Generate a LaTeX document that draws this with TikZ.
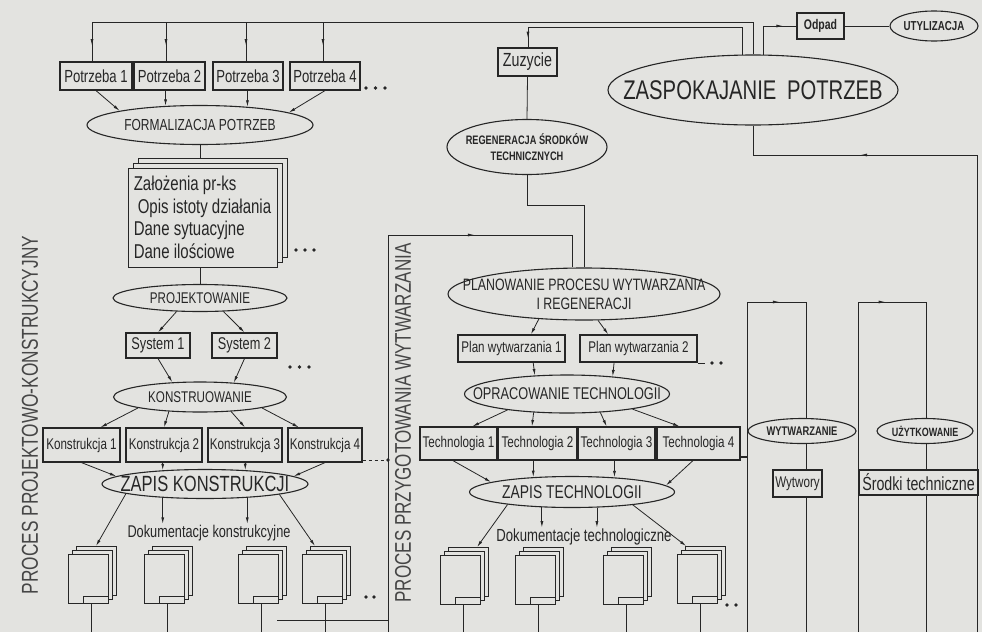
\documentclass[tikz,border=0pt]{standalone}
\usepackage{fontspec}
\setmainfont{Liberation Sans}[FakeStretch=0.75]
\usetikzlibrary{shapes.geometric,arrows.meta,decorations.markings,calc}
\definecolor{bg}{RGB}{227,227,224}
\definecolor{ink}{RGB}{38,38,38}
\definecolor{tink}{RGB}{70,70,70}
\newcommand\myfs[1]{\fontsize{#1}{#1}\selectfont}
\tikzset{
  conn/.style={draw=ink, line width=0.8pt},
  arr/.style={conn, -{Latex[length=6.5pt,width=3pt]}},
  marr/.style={conn, postaction={decorate}, decoration={markings, mark=at position #1 with {\arrow{Latex[length=6.5pt,width=3pt]}}}},
  rbox/.style={draw=ink, line width=1.2pt, fill=bg, inner sep=0.5pt, text=ink},
  bx/.style 2 args={rbox, minimum width=#1pt, minimum height=#2pt},
  ell/.style={ellipse, draw=ink, line width=1.1pt, fill=bg, inner sep=0pt},
  el/.style 2 args={ell, minimum width=#1pt, minimum height=#2pt},
  sheet/.style={draw=ink, line width=0.9pt, fill=bg, minimum width=40pt, minimum height=49pt, inner sep=0pt},
  bigsheet/.style={draw=ink, line width=1pt, fill=bg, minimum width=149pt, minimum height=99pt, inner sep=0pt},
  lbl/.style={inner sep=1pt, text=ink},
  dotm/.style={fill=ink}
}
\begin{document}
\begin{tikzpicture}[x=1pt,y=-1pt]
\fill[bg] (0,0) rectangle (982,632);
\useasboundingbox (0,0) rectangle (982,632);
\coordinate (bot) at (0,632);

% ---------------- left column ----------------
\node[bx={72}{28}, font=\myfs{17.5}] (P1) at (96,76) {Potrzeba 1};
\node[bx={71}{28}, font=\myfs{17.5}] (P2) at (169.5,76) {Potrzeba 2};
\node[bx={70}{28}, font=\myfs{17.5}] (P3) at (248,76) {Potrzeba 3};
\node[bx={70}{28}, font=\myfs{17.5}] (P4) at (325,76) {Potrzeba 4};
\node[el={226}{39}, label={[lbl,font=\myfs{16}]center:FORMALIZACJA POTRZEB}] (F) at (200,125) {};

\node[bigsheet] (St3) at (212.5,207.5) {};
\node[bigsheet] (St2) at (207.5,212.5) {};
\node[bigsheet, align=left, text=ink, font=\fontsize{20}{22.5}\selectfont] (St) at (202.5,217.5)
  {Założenia pr-ks\\\hspace*{4pt}Opis istoty działania\\Dane sytuacyjne\\Dane ilościowe};

\node[el={174}{27}, label={[lbl,font=\myfs{15.5}]center:PROJEKTOWANIE}] (Pj) at (200,298) {};
\node[bx={64}{25}, font=\myfs{17}] (S1) at (158,345.5) {System 1};
\node[bx={65}{25}, font=\myfs{17}] (S2) at (244.5,345.5) {System 2};
\node[el={173}{30}, label={[lbl,font=\myfs{15.5}]center:KONSTRUOWANIE}] (Ko) at (200,397) {};
\node[bx={77}{34}, font=\myfs{15.5}] (K1) at (81.5,445) {Konstrukcja 1};
\node[bx={76}{34}, font=\myfs{15.5}] (K2) at (164,445) {Konstrukcja 2};
\node[bx={74}{34}, font=\myfs{15.5}] (K3) at (245,445) {Konstrukcja 3};
\node[bx={74}{34}, font=\myfs{15.5}] (K4) at (325,445) {Konstrukcja 4};
\node[el={206}{29}, label={[lbl,font=\myfs{22}]center:ZAPIS KONSTRUKCJI}] (ZK) at (205,484) {};
\node[lbl, font=\myfs{17}] (DK) at (209,533) {Dokumentacje konstrukcyjne};
\node[rotate=90, text=tink, font=\myfs{23}] (TL) at (30,415) {PROCES PROJEKTOWO-KONSTRUKCYJNY};

% ---------------- middle column ----------------
\node[bx={59}{28}, font=\myfs{19}] (Zu) at (527.5,62) {Zuzycie};
\node[el={160}{55}, label={[lbl,align=center,font=\bfseries\fontsize{12.3}{16}\selectfont]center:{REGENERACJA ŚRODKÓW\\TECHNICZNYCH}}] (Rg) at (527,147) {};
\node[el={290}{70}, label={[lbl,font=\myfs{27}]center:{ZASPOKAJANIE\hspace{5pt} POTRZEB}}] (Z) at (753,90) {};
\node[bx={47}{26}, font=\bfseries\myfs{14}] (Od) at (820.5,26) {Odpad};
\node[el={88}{30}, label={[lbl,font=\bfseries\myfs{13}]center:UTYLIZACJA}] (Ut) at (934,26) {};
\node[el={272}{52}, label={[lbl,align=center,font=\fontsize{16.5}{19}\selectfont]center:{PLANOWANIE PROCESU WYTWARZANIA\\I REGENERACJI}}] (Pl) at (584,294) {};
\node[bx={107}{27}, font=\myfs{15.5}] (Pn1) at (511.5,348.5) {Plan wytwarzania 1};
\node[bx={117}{27}, font=\myfs{15.5}] (Pn2) at (638.5,348.5) {Plan wytwarzania 2};
\node[el={205}{38}, label={[lbl,font=\myfs{17}]center:OPRACOWANIE TECHNOLOGII}] (OP) at (567,394) {};
\node[bx={77}{33}, font=\myfs{15.5}] (T1) at (458.5,443.5) {Technologia 1};
\node[bx={79}{33}, font=\myfs{15.5}] (T2) at (537.5,443.5) {Technologia 2};
\node[bx={77}{33}, font=\myfs{15.5}] (T3) at (616.5,443.5) {Technologia 3};
\node[bx={83}{33}, font=\myfs{15.5}] (T4) at (698.5,443.5) {Technologia 4};
\node[el={205}{31}, label={[lbl,font=\myfs{18.5}]center:ZAPIS TECHNOLOGII}] (ZT) at (572,492) {};
\node[lbl, font=\myfs{17.5}] (DT) at (584,537) {Dokumentacje technologiczne};
\node[rotate=90, text=tink, font=\myfs{22.7}] (TM) at (403,423) {PROCES PRZYGOTOWANIA WYTWARZANIA};

% ---------------- right columns ----------------
\node[el={108}{25}, label={[lbl,font=\bfseries\myfs{12.5}]center:WYTWARZANIE}] (Wy) at (802,431) {};
\node[el={96}{25}, label={[lbl,font=\bfseries\myfs{12}]center:UŻYTKOWANIE}] (Uz) at (925,431) {};
\node[bx={49}{27}, font=\myfs{15.5}] (Wt) at (797.5,483.5) {Wytwory};
\node[bx={119}{25}, font=\myfs{19}] (Sr) at (918.5,482.5) {Środki techniczne};

% ---------------- document stacks ----------------
\foreach \n/\x/\y in {D1/88/579, D2/164/579, D3/258/579, D4/322/579, E1/460/580, E2/535/580, E3/623/580, E4/697/579}{
  \node[sheet] (\n c) at (\x+8,\y-8) {};
  \node[sheet] (\n b) at (\x+4,\y-4) {};
  \node[sheet] (\n) at (\x,\y) {};
  \draw[ink, line width=0.8pt] ([xshift=-5pt]\n.south) |- ([yshift=8pt]\n.south east);
  \draw[conn] ([xshift=3pt]\n.south) -- ([xshift=3pt]\n.south |- bot);
}

% ---------------- coordinates ----------------
\coordinate (a1) at (92,22);
\coordinate (a2) at (166,22);
\coordinate (a3) at (246,22);
\coordinate (a4) at (323,22);
\coordinate (aR) at (753,22);
\coordinate (b2) at (528,27);
\coordinate (c1) at (584,205);
\coordinate (M1) at (388,632);
\coordinate (M2) at (388,235);
\coordinate (M3) at (572,235);
\coordinate (R1) at (747,632);
\coordinate (R2) at (747,302);
\coordinate (R3) at (806,302);
\coordinate (U1) at (858,632);
\coordinate (U2) at (858,302);
\coordinate (U3) at (926,302);
\coordinate (Q1) at (977,632);
\coordinate (Q2) at (977,155);
\coordinate (Q3) at (753,155);
\coordinate (kd) at (388,460);
\coordinate (td) at (747,457);
\coordinate (h1) at (277,620);

% ---------------- top feedback ----------------
\draw[conn] (Z.north) -- (aR) -- (a1);
\draw[marr=0.6] (a1) -- (a1 |- P1.north);
\draw[marr=0.6] (a2) -- (a2 |- P2.north);
\draw[marr=0.6] (a3) -- (a3 |- P3.north);
\draw[marr=0.6] (a4) -- (a4 |- P4.north);
\draw[conn] (Z.107) |- (b2);
\draw[marr=0.55] (b2) -- (b2 |- Zu.north);
\draw[marr=0.78] (Z.73) |- (Od.west);
\draw[conn] (Od.east) -- (Ut.west);
\draw[conn] (Zu.south) -- (Rg.north);
\draw[conn] (Rg.south) |- (c1) -- (Pl.north);

% ---------------- left tree ----------------
\draw[arr] (P1.south) -- (F.170);
\draw[arr] (P2.south -| F.151) -- (F.151);
\draw[arr] (P3.south -| F.21) -- (F.21);
\draw[arr] (P4.south) -- (F.8);
\draw[conn] (F.south) -- (F.south |- St3.north);
\draw[conn] (St.south -| Pj.north) -- (Pj.north);
\draw[arr] (Pj.210) -- (S1.north);
\draw[arr] (Pj.330) -- (S2.north);
\draw[arr] (S1.south) -- (Ko.152);
\draw[arr] (S2.south) -- (Ko.23);
\draw[arr] (Ko.190) -- (K1.43);
\draw[arr] (Ko.205) -- (K2.north);
\draw[arr] (Ko.335) -- (K3.north);
\draw[arr] (Ko.350) -- (K4.146);
\draw[arr] (K1.south) -- (ZK.175);
\draw[arr] (K2.south -| ZK.162) -- (ZK.162);
\draw[arr] (K3.south -| ZK.19) -- (ZK.19);
\draw[arr] (K4.south) -- (ZK.5);
\draw[arr] (ZK.187) -- (D1c.north);
\draw[arr] (ZK.198) -- (ZK.198 |- DK.north);
\draw[arr] (ZK.342) -- (ZK.342 |- DK.north);
\draw[arr] (ZK.352) -- (D4c.121);
\draw[conn] (h1) -- (h1 -| M1);

% ---------------- middle tree ----------------
\draw[conn] (M1) -- (M2);
\draw[marr=0.47] (M2) -- (M3);
\draw[conn] (M3) -- (M3 |- Pl.north);
\draw[arr] (Pl.209) -- (Pn1.36);
\draw[arr] (Pl.298) -- (Pn2.155);
\draw[arr] (Pn1.327) -- (OP.150);
\draw[arr] (Pn2.210) -- (OP.21);
\draw[arr] (OP.195) -- (T1.51);
\draw[arr] (OP.209) -- (T2.108);
\draw[arr] (OP.331) -- (T3.120);
\draw[arr] (OP.347) -- (T4.138);
\draw[arr] (T1.252) -- (ZT.173);
\draw[arr] (T2.south -| ZT.159) -- (ZT.159);
\draw[arr] (T3.south -| ZT.19) -- (ZT.19);
\draw[arr] (T4.252) -- (ZT.4);
\draw[arr] (ZT.191) -- (E1c.70);
\draw[arr] (ZT.207) -- (ZT.207 |- DT.north);
\draw[arr] (ZT.328) -- (ZT.328 |- DT.north);
\draw[arr] (ZT.348) -- (E4c.127);

% ---------------- right frames ----------------
\draw[conn] (R1) -- (R2);
\draw[marr=0.55] (R2) -- (R3);
\draw[conn] (R3) -- (R3 |- Wy.north);
\draw[conn] (R3 |- Wy.south) -- (R3 |- Wt.north);
\draw[conn] (R3 |- Wt.south) -- (R3 |- bot);
\draw[conn] (U1) -- (U2);
\draw[marr=0.4] (U2) -- (U3);
\draw[conn] (U3) -- (U3 |- Uz.north);
\draw[conn] (U3 |- Uz.south) -- (U3 |- Sr.north);
\draw[conn] (U3 |- Sr.south) -- (U3 |- bot);
\draw[conn] (Q1) -- (Q2);
\draw[marr=0.52] (Q2) -- (Q3);
\draw[conn] (Q3) -- (Z.south);

% ---------------- dotted continuations ----------------
\draw[ink, line width=1pt, dash pattern=on 3pt off 3pt] (K4.south east |- kd) -- (kd);
\fill[dotm] (kd) circle (1.8pt);
\draw[ink, line width=1.5pt] (T4.east |- td) -- (td);
\foreach \px/\py in {366/88, 375.5/88, 385/88, 296/250, 305/250, 314/250, 290/367, 299.5/367, 309/367, 366/597, 374/597, 712/363, 721/363, 727/605, 736/605}{
  \fill[dotm] (\px,\py) circle (1.8pt);
}
\draw[ink, line width=1pt] (698,363) -- (705,363);
\end{tikzpicture}
\end{document}
